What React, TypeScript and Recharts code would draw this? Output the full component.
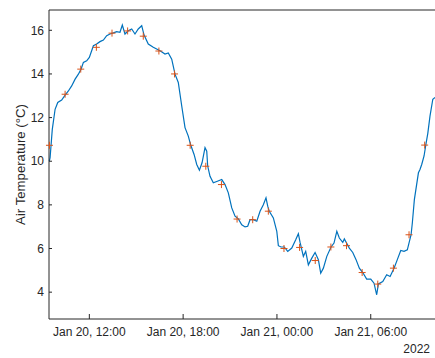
import React from "react";
import { ComposedChart, Line, Scatter, XAxis, YAxis, Label } from "recharts";

// continuous sensor trace, hours since Jan 20 00:00
const lineTimes = [
  9.44, 9.49, 9.63, 9.81, 9.98, 10.23, 10.45, 10.66, 10.87, 11.09,
  11.3, 11.47, 11.62, 11.83, 12.0, 12.26, 12.47, 12.68, 12.9, 13.11,
  13.32, 13.54, 13.75, 13.96, 14.11, 14.28, 14.49, 14.71, 14.92, 15.13,
  15.35, 15.5, 15.77, 16.09, 16.52, 16.84, 17.05, 17.27, 17.48, 17.69,
  17.91, 18.12, 18.33, 18.49, 18.7, 18.87, 19.04, 19.21, 19.4, 19.51,
  19.57, 19.72, 19.93, 20.19, 20.47, 20.68, 20.89, 21.11, 21.32, 21.53,
  21.75, 21.96, 22.13, 22.28, 22.49, 22.71, 22.92, 23.13, 23.3, 23.41,
  23.51, 23.77, 23.99, 24.09, 24.26, 24.47, 24.69, 24.95, 25.2, 25.37,
  25.48, 25.69, 25.84, 26.01, 26.23, 26.44, 26.65, 26.8, 26.97, 27.19,
  27.46, 27.65, 27.83, 27.99, 28.21, 28.31, 28.63, 28.85, 29.06, 29.27,
  29.49, 29.74, 30.0, 30.21, 30.38, 30.49, 30.77, 31.02, 31.24, 31.49,
  31.7, 31.92, 32.13, 32.34, 32.58, 32.66, 32.79, 33.05, 33.15, 33.26,
  33.41, 33.52, 33.65, 33.79, 33.97, 34.07, 34.15,
];

const lineTemps = [
  10.0, 10.16, 11.46, 12.38, 12.69, 12.8, 13.03, 13.22, 13.45, 13.76,
  13.99, 14.22, 14.53, 14.6, 14.76, 15.29, 15.37, 15.48, 15.55, 15.75,
  15.83, 15.88, 15.94, 15.91, 16.24, 15.83, 15.98, 16.06, 15.83, 16.06,
  16.21, 15.78, 15.37, 15.22, 15.06, 14.91, 14.96, 14.68, 13.99, 13.61,
  12.53, 11.54, 11.15, 10.73, 10.31, 9.85, 9.59, 9.93, 10.62, 10.46,
  9.78, 9.31, 9.01, 9.08, 9.16, 8.93, 8.55, 7.86, 7.48, 7.36,
  7.09, 6.99, 7.02, 7.32, 7.32, 7.25, 7.71, 8.01, 8.32, 7.94,
  7.71, 7.4, 6.79, 6.13, 6.07, 6.07, 5.87, 6.02, 6.4, 6.68,
  6.28, 5.64, 5.87, 5.25, 5.56, 5.82, 5.49, 4.87, 5.1, 5.64,
  6.07, 6.25, 6.79, 6.48, 6.28, 6.44, 6.02, 5.82, 5.49, 5.1,
  4.9, 4.6, 4.6, 4.41, 3.88, 4.38, 4.49, 4.8, 4.72, 5.1,
  5.49, 5.91, 5.87, 5.94, 6.63, 7.17, 8.24, 9.47, 9.62, 9.85,
  10.24, 10.74, 11.28, 12.07, 12.84, 12.9, 12.92,
];

// hourly readings (+ markers)
const hourlyTimes = [
  9.45, 10.45, 11.45, 12.45, 13.45, 14.45, 15.45, 16.45, 17.45, 18.45,
  19.45, 20.45, 21.45, 22.45, 23.45, 24.45, 25.45, 26.45, 27.45, 28.45,
  29.45, 30.45, 31.45, 32.45, 33.45,
];
const hourlyTemps = [
  10.73, 13.07, 14.22, 15.22, 15.87, 15.97, 15.73, 15.05, 14.0, 10.73,
  9.77, 8.93, 7.35, 7.32, 7.71, 6.0, 6.05, 5.45, 6.07, 6.13,
  4.9, 4.37, 5.1, 6.63, 10.74,
];

const xTicks = [12, 18, 24, 30];
const xTickLabels = ["Jan 20, 12:00", "Jan 20, 18:00", "Jan 21, 00:00", "Jan 21, 06:00"];
const yTicks = [4, 6, 8, 10, 12, 14, 16];

const lineData = lineTimes.map((t, i) => ({ t, v: lineTemps[i] }));
const hourlyData = hourlyTimes.map((t, i) => ({ t, v: hourlyTemps[i] }));

const FONT = "'Liberation Sans', Arial, Helvetica, sans-serif";
const INK = "#262626";

const PlusMarker = (props: any) => {
  const { cx, cy } = props;
  if (cx == null || cy == null) return null;
  return (
    <path
      d={`M${cx - 3.5},${cy}h7M${cx},${cy - 3.5}v7`}
      stroke="#D95319"
      strokeWidth={1}
      fill="none"
    />
  );
};

export default function App() {
  return (
    <div
      style={{
        position: "absolute",
        left: 0,
        top: 0,
        width: 435,
        height: 358,
        overflow: "hidden",
        background: "#fff",
      }}
    >
      <ComposedChart width={440} height={358} margin={{ top: 10, right: 0, bottom: 0, left: 0 }}>
        <XAxis
          xAxisId="top"
          orientation="top"
          type="number"
          dataKey="t"
          domain={[9.42, 34.43]}
          ticks={xTicks}
          height={1}
          mirror
          tick={false}
          tickSize={4}
          axisLine={{ stroke: INK }}
          tickLine={{ stroke: INK }}
        />
        <XAxis
          type="number"
          dataKey="t"
          domain={[9.42, 34.43]}
          ticks={xTicks}
          height={39}
          tickSize={-5}
          tickMargin={13}
          tickFormatter={(v: number) => xTickLabels[xTicks.indexOf(v)] ?? ""}
          tick={{ fill: INK, fontSize: 12, fontFamily: FONT }}
          axisLine={{ stroke: INK }}
          tickLine={{ stroke: INK }}
        >
          <Label
            content={({ viewBox }: any) => (
              <text
                x={viewBox.x + viewBox.width - 10}
                y={viewBox.y + viewBox.height - 5.5}
                textAnchor="end"
                fill={INK}
                fontSize={12}
                fontFamily={FONT}
              >
                2022
              </text>
            )}
          />
        </XAxis>
        <YAxis
          type="number"
          dataKey="v"
          domain={[2.77, 16.93]}
          ticks={yTicks}
          width={49}
          tickSize={-3}
          tickMargin={8}
          tick={{ fill: INK, fontSize: 12, fontFamily: FONT }}
          axisLine={{ stroke: INK }}
          tickLine={{ stroke: INK }}
        >
          <Label
            value="Air Temperature (°C)"
            angle={-90}
            position="insideLeft"
            offset={20}
            style={{ textAnchor: "middle", fill: INK, fontSize: 13.2, fontFamily: FONT }}
          />
        </YAxis>
        <Line
          data={lineData}
          dataKey="v"
          type="linear"
          stroke="#0072BD"
          strokeWidth={1.2}
          dot={false}
          activeDot={false}
          isAnimationActive={false}
        />
        <Scatter data={hourlyData} dataKey="v" shape={<PlusMarker />} isAnimationActive={false} />
      </ComposedChart>
    </div>
  );
}
